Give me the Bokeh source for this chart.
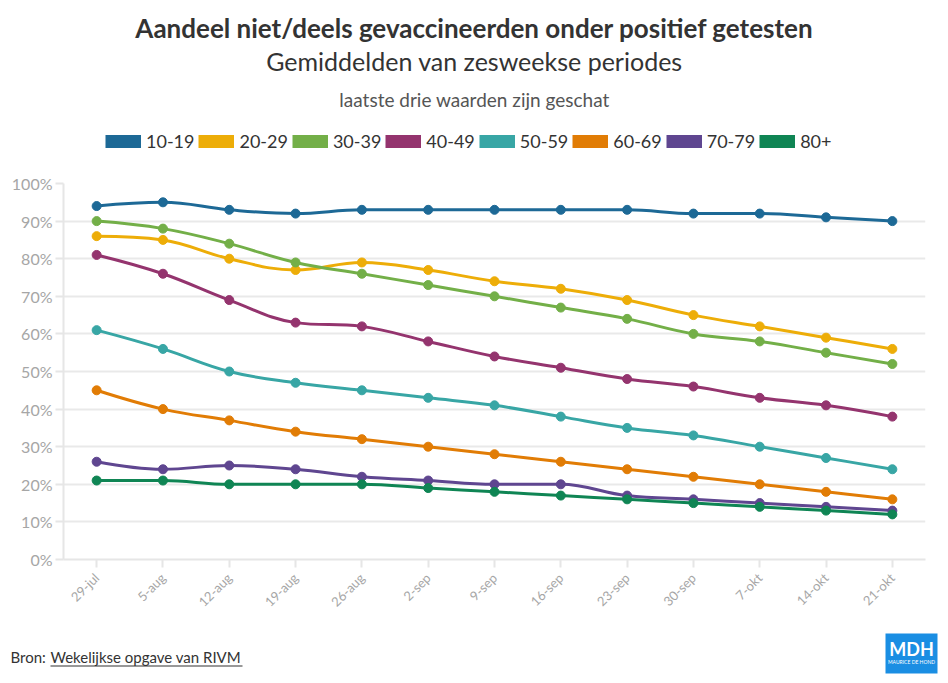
import math
from bokeh.plotting import figure
from bokeh.layouts import column
from bokeh.models import (Range1d, FixedTicker, Legend, LegendItem, Label,
                          BoxAnnotation, PrintfTickFormatter)
from bokeh.embed import file_html
from bokeh.resources import INLINE

# ---------------- data ----------------
weeks = ["29-jul", "5-aug", "12-aug", "19-aug", "26-aug", "2-sep", "9-sep",
         "16-sep", "23-sep", "30-sep", "7-okt", "14-okt", "21-okt"]
groups = ["10-19", "20-29", "30-39", "40-49", "50-59", "60-69", "70-79", "80+"]
colors = ["#1D6996", "#EDAD08", "#73AF48", "#94346E", "#38A6A5", "#E17C05",
          "#5F4690", "#0F8554"]

v_10_19 = [94, 95, 93, 92, 93, 93, 93, 93, 93, 92, 92, 91, 90]
v_20_29 = [86, 85, 80, 77, 79, 77, 74, 72, 69, 65, 62, 59, 56]
v_30_39 = [90, 88, 84, 79, 76, 73, 70, 67, 64, 60, 58, 55, 52]
v_40_49 = [81, 76, 69, 63, 62, 58, 54, 51, 48, 46, 43, 41, 38]
v_50_59 = [61, 56, 50, 47, 45, 43, 41, 38, 35, 33, 30, 27, 24]
v_60_69 = [45, 40, 37, 34, 32, 30, 28, 26, 24, 22, 20, 18, 16]
v_70_79 = [26, 24, 25, 24, 22, 21, 20, 20, 17, 16, 15, 14, 13]
v_80 = [21, 21, 20, 20, 20, 19, 18, 17, 16, 15, 14, 13, 12]
series = [v_10_19, v_20_29, v_30_39, v_40_49, v_50_59, v_60_69, v_70_79, v_80]

yticks = [0, 10, 20, 30, 40, 50, 60, 70, 80, 90, 100]

title = "Aandeel niet/deels gevaccineerden onder positief getesten"
subtitle = "Gemiddelden van zesweekse periodes"
note = "laatste drie waarden zijn geschat"
source_prefix = "Bron: "
source_link = "Wekelijkse opgave van RIVM"
logo_text = "MDH"
logo_sub = "MAURICE DE HOND"

FONT = "Lato"
W = 948
HEAD_H, MAIN_H, FOOT_H = 170, 450, 63
NAN = float("nan")


def spline_segments(xs, ys, smoothing=1.5):
    """Bezier control points (Highcharts-style spline) from the data points."""
    n = len(xs)
    denom = smoothing + 1
    right = [None] * n
    left = [None] * n
    for i in range(1, n - 1):
        px, py = xs[i], ys[i]
        lx, ly = xs[i - 1], ys[i - 1]
        nx, ny = xs[i + 1], ys[i + 1]
        lcx = (smoothing * px + lx) / denom
        lcy = (smoothing * py + ly) / denom
        rcx = (smoothing * px + nx) / denom
        rcy = (smoothing * py + ny) / denom
        corr = 0
        if rcx != lcx:
            corr = (rcy - lcy) * (rcx - px) / (rcx - lcx) + py - rcy
        lcy += corr
        rcy += corr
        if lcy > ly and lcy > py:
            lcy = max(ly, py)
            rcy = 2 * py - lcy
        elif lcy < ly and lcy < py:
            lcy = min(ly, py)
            rcy = 2 * py - lcy
        if rcy > ny and rcy > py:
            rcy = max(ny, py)
            lcy = 2 * py - rcy
        elif rcy < ny and rcy < py:
            rcy = min(ny, py)
            lcy = 2 * py - rcy
        left[i] = (lcx, lcy)
        right[i] = (rcx, rcy)
    seg = dict(x0=[], y0=[], x1=[], y1=[], cx0=[], cy0=[], cx1=[], cy1=[])
    for i in range(1, n):
        c0 = right[i - 1] if right[i - 1] is not None else (xs[i - 1], ys[i - 1])
        c1 = left[i] if left[i] is not None else (xs[i], ys[i])
        seg["x0"].append(xs[i - 1]); seg["y0"].append(ys[i - 1])
        seg["x1"].append(xs[i]); seg["y1"].append(ys[i])
        seg["cx0"].append(c0[0]); seg["cy0"].append(c0[1])
        seg["cx1"].append(c1[0]); seg["cy1"].append(c1[1])
    return seg


def blank_panel(height, top):
    """Figure whose frame fills the canvas; y runs downward in page pixels."""
    f = figure(width=W, height=height, output_backend="svg", title=None,
               toolbar_location=None, x_range=Range1d(0, W),
               y_range=Range1d(top + height, top),
               x_axis_location=None, y_axis_location=None,
               min_border=0, min_border_left=0, min_border_right=0,
               min_border_top=0, min_border_bottom=0)
    f.xgrid.visible = False
    f.ygrid.visible = False
    f.outline_line_color = None
    f.background_fill_color = "white"
    f.border_fill_color = "white"
    try:
        f.frame_align = False
    except Exception:
        pass
    return f


# ---------------- header ----------------
head = blank_panel(HEAD_H, 0)
head.add_layout(Label(x=W / 2, y=27, text=title, text_align="center",
                      text_baseline="alphabetic", text_font=FONT,
                      text_font_style="bold", text_font_size="26px",
                      text_color="#333333"))
head.add_layout(Label(x=W / 2, y=60, text=subtitle, text_align="center",
                      text_baseline="alphabetic", text_font=FONT,
                      text_font_size="25px", text_color="#333333"))
head.add_layout(Label(x=W / 2, y=99, text=note, text_align="center",
                      text_baseline="alphabetic", text_font=FONT,
                      text_font_size="19px", text_color="#555555"))

items = []
for g, c in zip(groups, colors):
    dummy = head.line(x=[NAN], y=[NAN], line_color=c, line_width=13,
                      line_cap="butt")
    items.append(LegendItem(label=g, renderers=[dummy]))
legend = Legend(items=items, orientation="horizontal", location=(105, 18.5),
                glyph_width=36, glyph_height=20, label_height=20,
                label_standoff=5, spacing=4, padding=0, margin=0,
                border_line_color=None, background_fill_alpha=0,
                label_text_font=FONT, label_text_font_size="18px",
                label_text_color="#333333")
head.add_layout(legend)

# ---------------- main chart ----------------
p = figure(width=W, height=MAIN_H, output_backend="svg", toolbar_location=None,
           title=None,
           x_range=Range1d(-0.5, len(weeks) - 0.5), y_range=Range1d(0, 100),
           min_border_left=63, min_border_right=23, min_border_top=13,
           min_border_bottom=61)
p.outline_line_color = None
p.background_fill_color = "white"
p.border_fill_color = "white"

p.xgrid.grid_line_color = None
p.ygrid.grid_line_color = "#e9e9e9"
p.ygrid.grid_line_width = 2

p.yaxis.ticker = FixedTicker(ticks=yticks)
p.yaxis.formatter = PrintfTickFormatter(format="%d%%")
p.yaxis.axis_line_color = "#e6e6e6"
p.yaxis.axis_line_width = 2
p.yaxis.major_tick_line_color = "#e6e6e6"
p.yaxis.major_tick_line_width = 2
p.yaxis.major_tick_out = 8
p.yaxis.major_tick_in = 0
p.yaxis.minor_tick_line_color = None
p.yaxis.major_label_text_font = FONT
p.yaxis.major_label_text_font_size = "16px"
p.yaxis.major_label_text_color = "#a6a6a6"
p.yaxis.major_label_standoff = 3

xs = list(range(len(weeks)))
p.xaxis.ticker = FixedTicker(ticks=xs)
p.xaxis.major_label_overrides = {i: w for i, w in enumerate(weeks)}
p.xaxis.major_label_orientation = math.pi / 4
p.xaxis.axis_line_color = "#e6e6e6"
p.xaxis.axis_line_width = 2
p.xaxis.major_tick_line_color = "#e6e6e6"
p.xaxis.major_tick_line_width = 2
p.xaxis.major_tick_out = 8
p.xaxis.major_tick_in = 0
p.xaxis.minor_tick_line_color = None
p.xaxis.major_label_text_font = FONT
p.xaxis.major_label_text_font_size = "13px"
p.xaxis.major_label_text_color = "#a6a6a6"
p.xaxis.major_label_standoff = 8

for g, c, vals in zip(groups, colors, series):
    seg = spline_segments(xs, vals)
    p.bezier(line_color=c, line_width=3, source=seg, x0="x0", y0="y0", x1="x1",
             y1="y1", cx0="cx0", cy0="cy0", cx1="cx1", cy1="cy1")
    p.scatter(xs, vals, size=9, fill_color=c, line_color=c)

# ---------------- footer ----------------
TOP_F = HEAD_H + MAIN_H
foot = blank_panel(FOOT_H, TOP_F)
foot.add_layout(Label(x=10, y=656, text=source_prefix,
                      text_baseline="alphabetic", text_font=FONT,
                      text_font_size="15px", text_color="#333333"))
foot.add_layout(Label(x=50, y=656, text=source_link,
                      text_baseline="alphabetic", text_font=FONT,
                      text_font_size="15px", text_color="#333333"))
foot.add_layout(BoxAnnotation(left=50, right=242, top=665, bottom=666,
                              fill_color="#333333", fill_alpha=1,
                              line_color=None))
foot.add_layout(BoxAnnotation(left=885, right=937, top=633, bottom=673,
                              fill_color="#1a8ee3", fill_alpha=1,
                              line_color=None))
foot.add_layout(Label(x=911, y=648, text=logo_text, text_align="center",
                      text_baseline="alphabetic", text_font=FONT,
                      text_font_style="bold", text_font_size="18px",
                      text_color="white"))
foot.add_layout(Label(x=911, y=661, text=logo_sub, text_align="center",
                      text_baseline="alphabetic", text_font=FONT,
                      text_font_size="5px", text_color="white"))

layout = column(head, p, foot, spacing=0)
open("out.html", "w").write(file_html(layout, INLINE))
